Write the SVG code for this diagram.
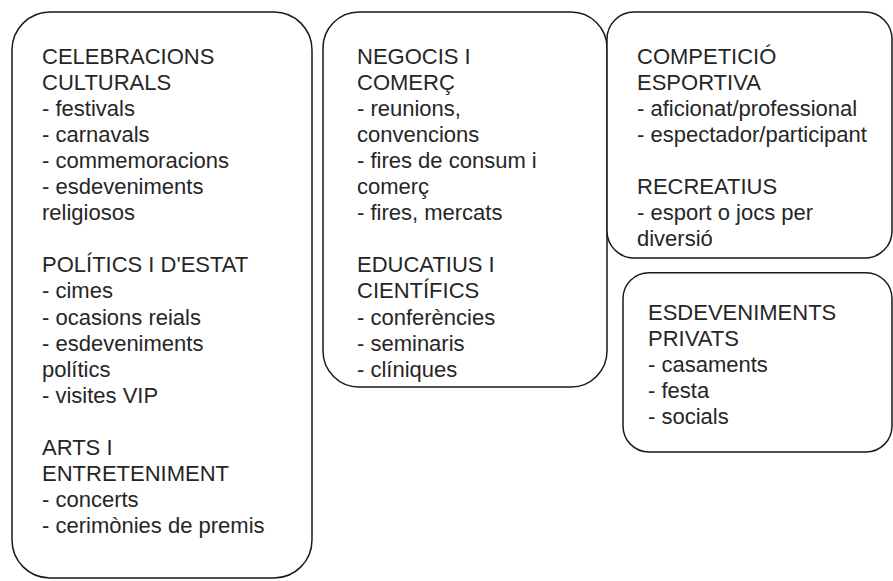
<svg xmlns="http://www.w3.org/2000/svg" width="893" height="581" viewBox="0 0 893 581">
<style>
.box{fill:#fff;stroke:#1a1a1a;stroke-width:1.5}
.t{font-family:"Liberation Sans",Arial,sans-serif;font-size:22px;fill:#262626}
</style>
<rect width="893" height="581" fill="#fff"/>
<g id="celebracions">
<rect class="box" x="12" y="12" width="300" height="566" rx="38" ry="38"/>
<text class="t" x="42" y="63.5">
<tspan x="42" dy="0">CELEBRACIONS</tspan>
<tspan x="42" dy="26.1">CULTURALS</tspan>
<tspan x="42" dy="26.1">- festivals</tspan>
<tspan x="42" dy="26.1">- carnavals</tspan>
<tspan x="42" dy="26.1">- commemoracions</tspan>
<tspan x="42" dy="26.1">- esdeveniments</tspan>
<tspan x="42" dy="26.1">religiosos</tspan>
<tspan x="42" dy="52.2">POLÍTICS I D'ESTAT</tspan>
<tspan x="42" dy="26.1">- cimes</tspan>
<tspan x="42" dy="26.1">- ocasions reials</tspan>
<tspan x="42" dy="26.1">- esdeveniments</tspan>
<tspan x="42" dy="26.1">polítics</tspan>
<tspan x="42" dy="26.1">- visites VIP</tspan>
<tspan x="42" dy="52.2">ARTS I</tspan>
<tspan x="42" dy="26.1">ENTRETENIMENT</tspan>
<tspan x="42" dy="26.1">- concerts</tspan>
<tspan x="42" dy="26.1">- cerimònies de premis</tspan>
</text>
</g>
<g id="negocis">
<rect class="box" x="323" y="12" width="284" height="375" rx="36" ry="36"/>
<text class="t" x="357" y="63.5">
<tspan x="357" dy="0">NEGOCIS I</tspan>
<tspan x="357" dy="26.1">COMERÇ</tspan>
<tspan x="357" dy="26.1">- reunions,</tspan>
<tspan x="357" dy="26.1">convencions</tspan>
<tspan x="357" dy="26.1">- fires de consum i</tspan>
<tspan x="357" dy="26.1">comerç</tspan>
<tspan x="357" dy="26.1">- fires, mercats</tspan>
<tspan x="357" dy="52.2">EDUCATIUS I</tspan>
<tspan x="357" dy="26.1">CIENTÍFICS</tspan>
<tspan x="357" dy="26.1">- conferències</tspan>
<tspan x="357" dy="26.1">- seminaris</tspan>
<tspan x="357" dy="26.1">- clíniques</tspan>
</text>
</g>
<g id="competicio">
<rect class="box" x="607" y="12" width="285" height="246" rx="27" ry="27"/>
<text class="t" x="637" y="63.5">
<tspan x="637" dy="0">COMPETICIÓ</tspan>
<tspan x="637" dy="26.1">ESPORTIVA</tspan>
<tspan x="637" dy="26.1">- aficionat/professional</tspan>
<tspan x="637" dy="26.1">- espectador/participant</tspan>
<tspan x="637" dy="52.2">RECREATIUS</tspan>
<tspan x="637" dy="26.1">- esport o jocs per</tspan>
<tspan x="637" dy="26.1">diversió</tspan>
</text>
</g>
<g id="privats">
<rect class="box" x="623" y="272.7" width="269" height="179.3" rx="26" ry="26"/>
<text class="t" x="648" y="320">
<tspan x="648" dy="0">ESDEVENIMENTS</tspan>
<tspan x="648" dy="26.1">PRIVATS</tspan>
<tspan x="648" dy="26.1">- casaments</tspan>
<tspan x="648" dy="26.1">- festa</tspan>
<tspan x="648" dy="26.1">- socials</tspan>
</text>
</g>
<g id="connectors"></g>
</svg>
